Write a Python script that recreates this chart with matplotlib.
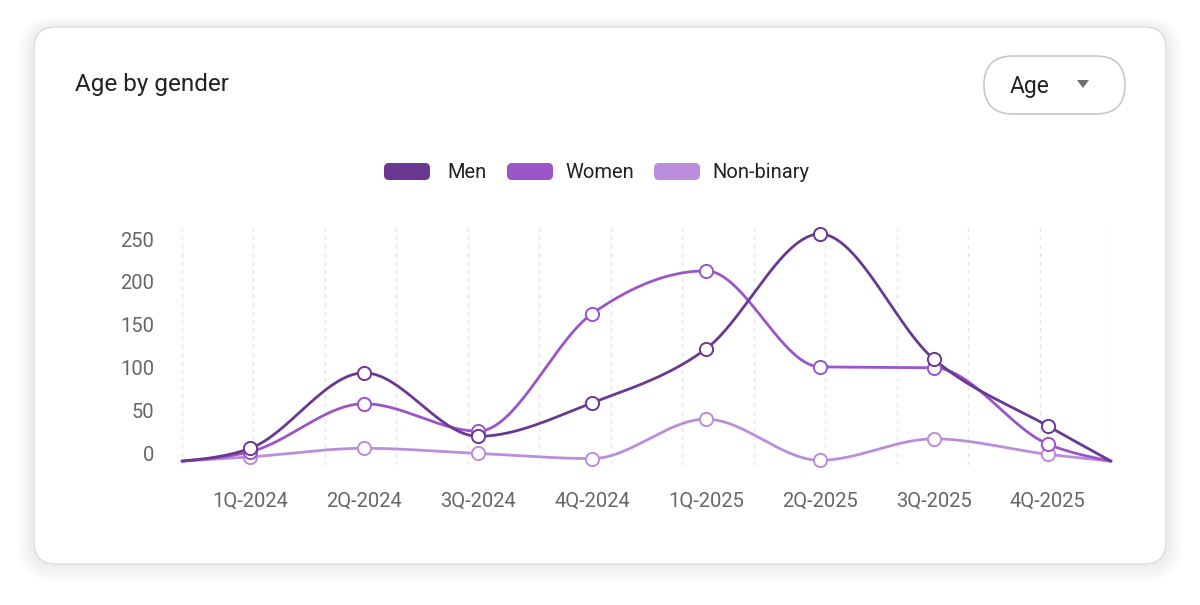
import numpy as np
import matplotlib
matplotlib.use("Agg")
import matplotlib.pyplot as plt
from matplotlib.patches import FancyBboxPatch, Polygon

quarters = ["1Q-2024", "2Q-2024", "3Q-2024", "4Q-2024",
            "1Q-2025", "2Q-2025", "3Q-2025", "4Q-2025"]
men = [6, 94, 20, 59, 122, 256, 110, 32]
women = [2, 58, 26, 163, 213, 101, 100, 11]
non_binary = [-4, 6, 0, -6, 40, -8, 17, -1]
edge_value = -9  # where every curve starts and ends at the chart edges
y_ticks = [0, 50, 100, 150, 200, 250]

colors = {"Men": "#6b3891", "Women": "#9a55c9", "Non-binary": "#bb8edc"}

W, H = 1200, 605
fig = plt.figure(figsize=(W / 100, H / 100), dpi=100)
fig.patch.set_facecolor("white")


def monotone(xs, ys, n=60):
    # d3 curveMonotoneX style interpolation
    xs = np.asarray(xs, float)
    ys = np.asarray(ys, float)
    h = np.diff(xs)
    s = np.diff(ys) / h
    m = np.zeros(len(xs))
    for i in range(1, len(xs) - 1):
        p = (s[i - 1] * h[i] + s[i] * h[i - 1]) / (h[i - 1] + h[i])
        m[i] = (np.sign(s[i - 1]) + np.sign(s[i])) * min(abs(s[i - 1]), abs(s[i]), 0.5 * abs(p))
    m[0] = (3 * s[0] - m[1]) / 2
    m[-1] = (3 * s[-1] - m[-2]) / 2
    out_x, out_y = [], []
    for i in range(len(xs) - 1):
        t = np.linspace(0, 1, n)
        h00 = 2 * t**3 - 3 * t**2 + 1
        h10 = t**3 - 2 * t**2 + t
        h01 = -2 * t**3 + 3 * t**2
        h11 = t**3 - t**2
        out_x.append(xs[i] + t * h[i])
        out_y.append(h00 * ys[i] + h10 * h[i] * m[i] + h01 * ys[i + 1] + h11 * h[i] * m[i + 1])
    return np.concatenate(out_x), np.concatenate(out_y)


# card with soft shadow
bg = fig.add_axes([0, 0, 1, 1])
bg.set_xlim(0, W)
bg.set_ylim(H, 0)
bg.axis("off")
for k in range(18, 0, -1):
    bg.add_patch(FancyBboxPatch((34 - k, 27 - k * 0.7 + 2), 1132 + 2 * k, 537 + 1.6 * k,
                                boxstyle="round,pad=0,rounding_size=%d" % (22 + k),
                                fc="#000000", ec="none", alpha=0.0045))
bg.add_patch(FancyBboxPatch((34, 27), 1132, 537, boxstyle="round,pad=0,rounding_size=22",
                            fc="white", ec="#dcdcdc", lw=1.0))

# dropdown pill
bg.add_patch(FancyBboxPatch((984, 56), 141, 58, boxstyle="round,pad=0,rounding_size=29",
                            fc="white", ec="#c8c8c8", lw=1.2))
bg.text(1010, 86, "Age", fontsize=16.5, family="Roboto", color="#222222", va="center", ha="left")
bg.add_patch(Polygon([[1077, 80], [1089, 80], [1083, 88]], closed=True, fc="#6e6e6e", ec="none"))

bg.text(75, 85, "Age by gender", fontsize=17.5, family="Roboto", color="#222222",
        va="center", ha="left")

# legend
legend_pos = {"Men": (384, 447), "Women": (507, 565), "Non-binary": (654, 712)}
for name, (sx, tx) in legend_pos.items():
    bg.add_patch(FancyBboxPatch((sx, 163), 46, 17, boxstyle="round,pad=0,rounding_size=5",
                                fc=colors[name], ec="none"))
    bg.text(tx, 172, name, fontsize=14.5, family="Roboto", color="#222222",
            va="center", ha="left")

# main plot
ax = fig.add_axes([182 / W, 1 - 465 / H, (1111 - 182) / W, (465 - 228) / H])
ax.set_facecolor("none")
x_min, x_max = -0.6, 7.555
ax.set_xlim(x_min, x_max)
ax.set_ylim(-13.5, 263)

for gx in np.linspace(x_min, x_max, 14):
    ax.axvline(gx, color="#e6e6e6", lw=1, ls=(0, (3, 3)), zorder=0)

xs = np.arange(len(quarters))
series = [("Non-binary", non_binary), ("Women", women), ("Men", men)]
for name, vals in series:
    cx = np.concatenate([[x_min], xs, [x_max]])
    cy = np.concatenate([[edge_value], vals, [edge_value]])
    lx, ly = monotone(cx, cy)
    ax.plot(lx, ly, color=colors[name], lw=2.0, solid_capstyle="round", zorder=2, clip_on=False)
for name, vals in series:
    ax.plot(xs, vals, ls="none", marker="o", ms=9.5, mfc="white", mec=colors[name],
            mew=1.4, zorder=3, clip_on=False)

ax.set_xticks(xs)
ax.set_xticklabels(quarters)
ax.set_yticks(y_ticks)
for side in ax.spines.values():
    side.set_visible(False)
ax.tick_params(length=0, labelsize=14.5, labelcolor="#666666")
ax.tick_params(axis="y", pad=20)
ax.tick_params(axis="x", pad=19)
for lab in ax.get_xticklabels() + ax.get_yticklabels():
    lab.set_family("Roboto")

fig.savefig("out.png", dpi=100, facecolor="white")
